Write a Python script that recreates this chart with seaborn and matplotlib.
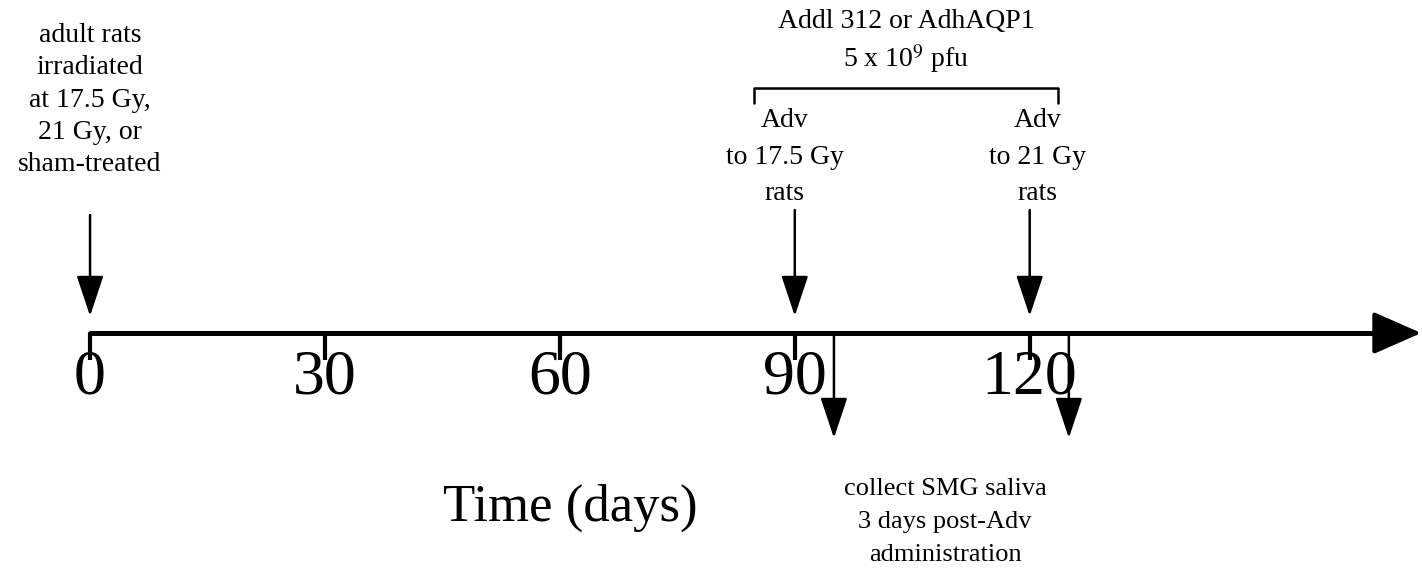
import matplotlib
matplotlib.use("Agg")
import matplotlib.pyplot as plt
import seaborn as sns
import pandas as pd

# timeline values (days)
TICK_DAYS = [0, 30, 60, 90, 120]
TICK_LABELS = ["0", "30", "60", "90", "120"]
IRRADIATION_DAY = 0
ADV_DAYS = [90, 120]
COLLECT_DAYS = [95, 125]
AXIS_END_DAY = 170

IRRADIATION_TEXT = "adult rats\nirradiated\nat 17.5 Gy,\n21 Gy, or\nsham-treated"
VECTOR_TEXT = "Addl 312 or AdhAQP1\n5 x 10$^{9}$ pfu"
ADV_TEXTS = ["Adv\nto 17.5 Gy\nrats", "Adv\nto 21 Gy\nrats"]
COLLECT_TEXT = "collect SMG saliva\n3 days post-Adv\nadministration"
XLABEL = "Time (days)"

sns.set_theme(style="white")
plt.rcParams["font.family"] = ["Liberation Serif", "DejaVu Serif"]
plt.rcParams["mathtext.fontset"] = "stix"
plt.rcParams["text.color"] = "black"


def arrow(ax, x, y0, y1, lw=1.8, scale=60):
    ax.annotate("", xy=(x, y1), xytext=(x, y0),
                arrowprops=dict(arrowstyle="-|>,head_length=0.42,head_width=0.14",
                                mutation_scale=scale, lw=lw, color="black",
                                shrinkA=0, shrinkB=0))


def main():
    fig = plt.figure(figsize=(14.22, 5.69), dpi=100)
    ax = fig.add_axes([0, 0, 1, 1])
    ax.set_xlim(-11.5, 170.1)
    ax.set_ylim(569, 0)
    ax.axis("off")

    axis_y = 333
    line = pd.DataFrame({"day": [TICK_DAYS[0], AXIS_END_DAY - 5], "y": [axis_y, axis_y]})
    sns.lineplot(data=line, x="day", y="y", color="black", lw=3.6, ax=ax)
    ax.annotate("", xy=(AXIS_END_DAY, axis_y), xytext=(AXIS_END_DAY - 6, axis_y),
                arrowprops=dict(arrowstyle="-|>,head_length=0.5,head_width=0.22",
                                mutation_scale=60, lw=3, color="black",
                                shrinkA=0, shrinkB=0))

    # ticks and labels
    ax.vlines(TICK_DAYS, axis_y, 360, color="black", lw=3)
    for d, lab in zip(TICK_DAYS, TICK_LABELS):
        ax.text(d, 378, lab, ha="center", va="center", fontsize=46)
    ax.text(61.3, 508, XLABEL, ha="center", va="center", fontsize=38)

    # irradiation
    arrow(ax, IRRADIATION_DAY, 215, 316)
    ax.text(IRRADIATION_DAY, 100, IRRADIATION_TEXT, ha="center", va="center",
            fontsize=20, linespacing=1.37)

    # adenovirus administration
    for d in ADV_DAYS:
        arrow(ax, d, 210, 316)
    ax.text(ADV_DAYS[0] - 1.3, 157, ADV_TEXTS[0], ha="center", va="center",
            fontsize=20, linespacing=1.6)
    ax.text(ADV_DAYS[1] + 1.0, 157, ADV_TEXTS[1], ha="center", va="center",
            fontsize=20, linespacing=1.6)
    bx0, bx1 = ADV_DAYS[0] - 5.2, ADV_DAYS[1] + 3.6
    ax.plot([bx0, bx0, bx1, bx1], [103, 88, 88, 103], color="black", lw=1.8)
    ax.text((bx0 + bx1) / 2, 42, VECTOR_TEXT, ha="center", va="center",
            fontsize=20, linespacing=1.3)

    # saliva collection
    for d in COLLECT_DAYS:
        arrow(ax, d, axis_y, 438)
    ax.text(109.2, 522, COLLECT_TEXT, ha="center", va="center",
            fontsize=19, linespacing=1.62)

    fig.savefig("out.png", dpi=100, facecolor="white")
    plt.close(fig)


if __name__ == "__main__":
    main()
